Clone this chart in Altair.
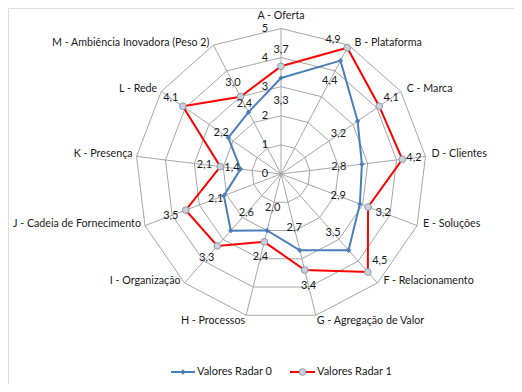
import math
import altair as alt
import pandas as pd

categories = ["A - Oferta", "B - Plataforma", "C - Marca", "D - Clientes", "E - Soluções",
              "F - Relacionamento", "G - Agregação de Valor", "H - Processos", "I - Organização",
              "J - Cadeia de Fornecimento", "K - Presença", "L - Rede",
              "M - Ambiência Inovadora (Peso 2)"]
radar0 = [3.3, 4.4, 3.2, 2.8, 2.9, 3.5, 2.7, 2.0, 2.6, 2.1, 1.4, 2.2, 2.4]
radar1 = [3.7, 4.9, 4.1, 4.2, 3.2, 4.5, 3.4, 2.4, 3.3, 3.5, 2.1, 4.1, 3.0]
series_names = ["Valores Radar 0", "Valores Radar 1"]
ring_levels = [1, 2, 3, 4, 5]
tick_labels = ["0", "1", "2", "3", "4", "5"]

BLUE = "#4A7EBB"
RED = "#FF0000"
GRID = "#A6A6A6"
TXT = "#1a1a1a"
FONT = "Lato"
FS = 11
FSC = 10.7

W, H = 506, 376
CX, CY, PPU = 273, 166, 29.1
XD = [-CX / PPU, (W - CX) / PPU]
YD = [-(H - CY) / PPU, CY / PPU]
N = len(categories)


def ang(i):
    return 2 * math.pi * i / N


def pos(r, i):
    return r * math.sin(ang(i)), r * math.cos(ang(i))


def X(f):
    return alt.X(f, type="quantitative", scale=alt.Scale(domain=XD, nice=False, zero=False), axis=None)


def Y(f):
    return alt.Y(f, type="quantitative", scale=alt.Scale(domain=YD, nice=False, zero=False), axis=None)


# grid rings
ring_rows = []
for lv in ring_levels:
    for k in range(N + 1):
        x, y = pos(lv, k % N)
        ring_rows.append({"level": lv, "k": k, "x": x, "y": y})
rings = alt.Chart(pd.DataFrame(ring_rows)).mark_line(color=GRID, strokeWidth=1).encode(
    x=X("x"), y=Y("y"), detail="level:N", order="k:Q")

spoke_rows = []
for i in range(N):
    x, y = pos(max(ring_levels), i)
    spoke_rows.append({"x": 0.0, "y": 0.0, "x2": x, "y2": y})
spokes = alt.Chart(pd.DataFrame(spoke_rows)).mark_rule(color=GRID, strokeWidth=1).encode(
    x=X("x"), y=Y("y"), x2="x2:Q", y2="y2:Q")

ticks = alt.Chart(pd.DataFrame({"t": tick_labels, "x": [0.0] * 6,
                                "y": [float(t) for t in tick_labels]})).mark_text(
    font=FONT, fontSize=FS, color=TXT, dx=-16, baseline="middle", align="center").encode(
    x=X("x"), y=Y("y"), text="t:N")

# category labels
cat_rows = []
for i, c in enumerate(categories):
    x, y = pos(5, i)
    s, co = math.sin(ang(i)), math.cos(ang(i))
    if co > 0.9:
        grp = "top"
    elif co < -0.9:
        grp = "bl" if s > 0 else "br"
    elif s > 0:
        grp = "right"
    else:
        grp = "left"
    cat_rows.append({"cat": c, "x": x, "y": y, "grp": grp})
cat_df = pd.DataFrame(cat_rows)
cat_specs = {
    "top": dict(align="center", baseline="bottom", dx=0, dy=-8),
    "bl": dict(align="left", baseline="top", dx=1, dy=1),
    "br": dict(align="right", baseline="top", dx=-1, dy=1),
    "right": dict(align="left", baseline="middle", dx=6, dy=-2),
    "left": dict(align="right", baseline="middle", dx=-4, dy=-2),
}
cat_layers = []
for g, spec in cat_specs.items():
    cat_layers.append(
        alt.Chart(cat_df[cat_df.grp == g]).mark_text(font=FONT, fontSize=FSC, color=TXT, **spec).encode(
            x=X("x"), y=Y("y"), text="cat:N"))


def blue_label(v, i):
    s, co = math.sin(ang(i)), math.cos(ang(i))
    off = 0.3 if (s < -0.85 or (s < 0 and co > 0)) else -0.8
    return pos(v + off, i)


def red_label(v, i):
    s, co = math.sin(ang(i)), math.cos(ang(i))
    if v + 0.55 >= 4.9:
        x, y = pos(v, i)
        t = 16 / PPU
        return x - co * t, y + s * t
    return pos(min(v + 0.55, 4.6), i)


def series_df(vals, name, labfn):
    rows = []
    for k in range(N + 1):
        i = k % N
        x, y = pos(vals[i], i)
        lx, ly = labfn(vals[i], i)
        rows.append({"series": name, "k": k, "x": x, "y": y, "lx": lx, "ly": ly,
                     "lab": f"{vals[i]:.1f}".replace(".", ","), "last": k == N})
    return pd.DataFrame(rows)


d0 = series_df(radar0, series_names[0], blue_label)
d1 = series_df(radar1, series_names[1], red_label)

line0 = alt.Chart(d0).mark_line(color=BLUE, strokeWidth=2).encode(x=X("x"), y=Y("y"), order="k:Q")
line1 = alt.Chart(d1).mark_line(color=RED, strokeWidth=2).encode(x=X("x"), y=Y("y"), order="k:Q")
pts0 = alt.Chart(d0[~d0["last"]]).mark_point(shape="diamond", filled=True, color=BLUE, size=28, opacity=1).encode(
    x=X("x"), y=Y("y"))
pts1 = alt.Chart(d1[~d1["last"]]).mark_point(shape="circle", filled=True, fill="#C9D0DA", stroke="#8E99A8",
                                              strokeWidth=1, size=45, opacity=1).encode(x=X("x"), y=Y("y"))
lab0 = alt.Chart(d0[~d0["last"]]).mark_text(font=FONT, fontSize=FS, color=TXT).encode(
    x=X("lx"), y=Y("ly"), text="lab:N")
lab1 = alt.Chart(d1[~d1["last"]]).mark_text(font=FONT, fontSize=FS, color=TXT).encode(
    x=X("lx"), y=Y("ly"), text="lab:N")

# legend
LY = 364
leg = []
for name, col, x0, x1, tx, kind in [(series_names[0], BLUE, 163, 187, 189, "d"),
                                    (series_names[1], RED, 282, 307, 309, "c")]:
    ldf = pd.DataFrame({"name": [name]})
    leg.append(alt.Chart(ldf).mark_rule(color=col, strokeWidth=2).encode(
        x=alt.value(x0), x2=alt.value(x1), y=alt.value(LY)))
    if kind == "d":
        leg.append(alt.Chart(ldf).mark_point(shape="diamond", filled=True, color=col, size=28, opacity=1).encode(
            x=alt.value((x0 + x1) / 2), y=alt.value(LY)))
    else:
        leg.append(alt.Chart(ldf).mark_point(shape="circle", filled=True, fill="#C9D0DA", stroke="#8E99A8",
                                             strokeWidth=1, size=45, opacity=1).encode(
            x=alt.value((x0 + x1) / 2), y=alt.value(LY)))
    leg.append(alt.Chart(ldf).mark_text(font=FONT, fontSize=FS, color=TXT, align="left", baseline="middle").encode(
        x=alt.value(tx), y=alt.value(LY), text="name:N"))

chart = alt.layer(rings, spokes, ticks, *cat_layers, line0, line1, pts0, pts1, lab0, lab1, *leg).properties(
    width=W, height=H, autosize=alt.AutoSizeParams(type="none"), padding=0
).configure_view(stroke=None).configure(background="white")

chart.save("out.html", embed_options={"renderer": "svg", "actions": False})
